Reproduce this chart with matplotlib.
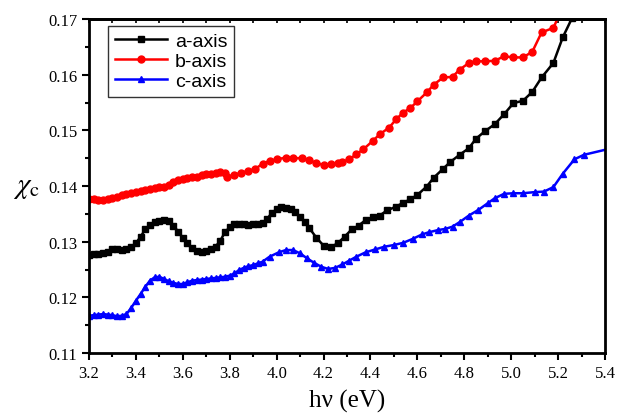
import matplotlib
matplotlib.use('Agg')
import matplotlib.pyplot as plt
from matplotlib.ticker import MultipleLocator, FormatStrFormatter

# a-axis (black, squares)
energy_a = [3.20, 3.22, 3.24, 3.26, 3.28, 3.30, 3.32, 3.34, 3.36, 3.38,
            3.40, 3.42, 3.44, 3.46, 3.48, 3.50, 3.52, 3.54, 3.56, 3.58,
            3.60, 3.62, 3.64, 3.66, 3.68, 3.70, 3.72, 3.74, 3.76, 3.78,
            3.80, 3.82, 3.84, 3.86, 3.88, 3.90, 3.92, 3.94, 3.96, 3.98,
            4.00, 4.02, 4.04, 4.06, 4.08, 4.10, 4.12, 4.14, 4.17, 4.20,
            4.23, 4.26, 4.29, 4.32, 4.35, 4.38, 4.41, 4.44, 4.47, 4.51,
            4.54, 4.57, 4.60, 4.64, 4.67, 4.71, 4.74, 4.78, 4.82, 4.85,
            4.89, 4.93, 4.97, 5.01, 5.05, 5.09, 5.13, 5.18, 5.22, 5.26]
chi_a = [0.1276, 0.1277, 0.1278, 0.1279, 0.1281, 0.1287, 0.1286, 0.1285, 0.1287, 0.1291,
         0.1297, 0.1309, 0.1322, 0.1330, 0.1335, 0.1337, 0.1339, 0.1337, 0.1329, 0.1318,
         0.1307, 0.1297, 0.1289, 0.1283, 0.1281, 0.1283, 0.1286, 0.1291, 0.1302, 0.1317,
         0.1326, 0.1331, 0.1332, 0.1331, 0.1330, 0.1331, 0.1332, 0.1334, 0.1341, 0.1352,
         0.1358, 0.1362, 0.1361, 0.1359, 0.1353, 0.1345, 0.1336, 0.1324, 0.1307, 0.1293,
         0.1290, 0.1297, 0.1309, 0.1322, 0.1329, 0.1339, 0.1344, 0.1347, 0.1356, 0.1363,
         0.1370, 0.1376, 0.1384, 0.1399, 0.1415, 0.1431, 0.1443, 0.1456, 0.1468, 0.1485,
         0.1499, 0.1511, 0.1529, 0.1549, 0.1553, 0.1569, 0.1595, 0.1621, 0.1667, 0.1702]

# b-axis (red, circles)
energy_b = [3.20, 3.22, 3.24, 3.26, 3.28, 3.30, 3.32, 3.34, 3.36, 3.38,
            3.40, 3.42, 3.44, 3.46, 3.48, 3.50, 3.52, 3.54, 3.56, 3.58,
            3.60, 3.62, 3.64, 3.66, 3.68, 3.70, 3.72, 3.74, 3.76, 3.78,
            3.79, 3.82, 3.85, 3.88, 3.91, 3.94, 3.97, 4.00, 4.04, 4.07,
            4.11, 4.14, 4.17, 4.20, 4.23, 4.26, 4.28, 4.31, 4.34, 4.37,
            4.41, 4.44, 4.48, 4.51, 4.54, 4.57, 4.60, 4.64, 4.67, 4.71,
            4.75, 4.78, 4.82, 4.85, 4.89, 4.93, 4.97, 5.01, 5.05, 5.09,
            5.13, 5.18, 5.21]
chi_b = [0.1377, 0.1376, 0.1375, 0.1374, 0.1376, 0.1378, 0.1380, 0.1383, 0.1385, 0.1387,
         0.1389, 0.1391, 0.1393, 0.1395, 0.1397, 0.1398, 0.1399, 0.1401, 0.1407, 0.1410,
         0.1412, 0.1414, 0.1416, 0.1417, 0.1419, 0.1421, 0.1422, 0.1424, 0.1426, 0.1424,
         0.1417, 0.1420, 0.1424, 0.1427, 0.1431, 0.1440, 0.1445, 0.1448, 0.1451, 0.1450,
         0.1450, 0.1446, 0.1441, 0.1438, 0.1439, 0.1441, 0.1443, 0.1448, 0.1457, 0.1466,
         0.1481, 0.1493, 0.1505, 0.1520, 0.1532, 0.1540, 0.1552, 0.1568, 0.1582, 0.1595,
         0.1596, 0.1609, 0.1621, 0.1624, 0.1624, 0.1625, 0.1633, 0.1631, 0.1631, 0.1641,
         0.1676, 0.1684, 0.1712]

# c-axis (blue, triangles)
energy_c = [3.20, 3.22, 3.24, 3.26, 3.28, 3.30, 3.32, 3.34, 3.36, 3.38,
            3.40, 3.42, 3.44, 3.46, 3.48, 3.50, 3.52, 3.54, 3.56, 3.58,
            3.60, 3.62, 3.64, 3.66, 3.68, 3.70, 3.72, 3.74, 3.76, 3.78,
            3.80, 3.82, 3.84, 3.86, 3.88, 3.90, 3.92, 3.94, 3.97, 4.01,
            4.04, 4.07, 4.10, 4.13, 4.16, 4.19, 4.22, 4.25, 4.28, 4.31,
            4.34, 4.38, 4.42, 4.46, 4.50, 4.54, 4.58, 4.62, 4.65, 4.69,
            4.72, 4.75, 4.78, 4.82, 4.86, 4.90, 4.93, 4.97, 5.01, 5.05,
            5.10, 5.14, 5.18, 5.22, 5.27, 5.31, 5.35, 5.40]
chi_c = [0.1167, 0.1168, 0.1169, 0.1170, 0.1169, 0.1168, 0.1166, 0.1167, 0.1170, 0.1181,
         0.1194, 0.1206, 0.1219, 0.1230, 0.1236, 0.1237, 0.1233, 0.1229, 0.1226, 0.1224,
         0.1224, 0.1227, 0.1230, 0.1231, 0.1232, 0.1233, 0.1234, 0.1235, 0.1236, 0.1237,
         0.1239, 0.1243, 0.1249, 0.1253, 0.1256, 0.1258, 0.1261, 0.1264, 0.1273, 0.1281,
         0.1285, 0.1285, 0.1279, 0.1270, 0.1262, 0.1255, 0.1251, 0.1253, 0.1259, 0.1266,
         0.1273, 0.1281, 0.1286, 0.1291, 0.1294, 0.1298, 0.1305, 0.1313, 0.1317, 0.1321,
         0.1323, 0.1327, 0.1335, 0.1347, 0.1357, 0.1369, 0.1378, 0.1386, 0.1387, 0.1387,
         0.1389, 0.1390, 0.1398, 0.1422, 0.1448, 0.1456, 0.1460, 0.1465]

plt.rcParams['mathtext.fontset'] = 'stix'

fig = plt.figure(figsize=(6.17, 4.14), dpi=100)
ax = fig.add_axes([0.1442, 0.1449, 0.8363, 0.8068])

ax.plot(energy_a, chi_a, color='black', marker='s', markersize=4, linewidth=1.8, label='a-axis')
ax.plot(energy_b, chi_b, color='red', marker='o', markersize=5, linewidth=1.8, label='b-axis')
ax.plot(energy_c, chi_c, color='blue', marker='^', markersize=5, linewidth=1.8,
        markevery=slice(0, -2), label='c-axis')

ax.set_xlim(3.2, 5.4)
ax.set_ylim(0.11, 0.17)
ax.xaxis.set_major_locator(MultipleLocator(0.2))
ax.xaxis.set_minor_locator(MultipleLocator(0.1))
ax.yaxis.set_major_locator(MultipleLocator(0.01))
ax.yaxis.set_minor_locator(MultipleLocator(0.005))
ax.xaxis.set_major_formatter(FormatStrFormatter('%.1f'))
ax.yaxis.set_major_formatter(FormatStrFormatter('%.2f'))

ax.tick_params(which='both', direction='out', width=1.5, top=False, right=False,
               labelsize=12, labelfontfamily='Liberation Serif')
ax.tick_params(which='major', length=5)
ax.tick_params(which='minor', length=3)

# small inward ticks along the top border, no labels
top = ax.secondary_xaxis('top')
top.xaxis.set_major_locator(MultipleLocator(0.1))
top.tick_params(direction='in', length=3, width=1.2, labeltop=False)

for spine in ax.spines.values():
    spine.set_linewidth(2)
top.spines['top'].set_linewidth(2)

ax.text(-0.122, 0.5, r'$\chi_{\mathrm{c}}$', transform=ax.transAxes, fontsize=21,
        ha='center', va='center')
ax.set_xlabel('hν (eV)', fontsize=18, family='Liberation Serif', labelpad=6)

leg = ax.legend(loc='upper left', bbox_to_anchor=(0.037, 0.98),
                prop={'family': 'Liberation Sans', 'size': 14},
                frameon=True, fancybox=False, edgecolor='black', handlelength=2.7,
                borderpad=0.35, labelspacing=0.12, handletextpad=0.4, borderaxespad=0)
leg.get_frame().set_linewidth(1.0)

fig.savefig('out.png', dpi=100, facecolor='white')
